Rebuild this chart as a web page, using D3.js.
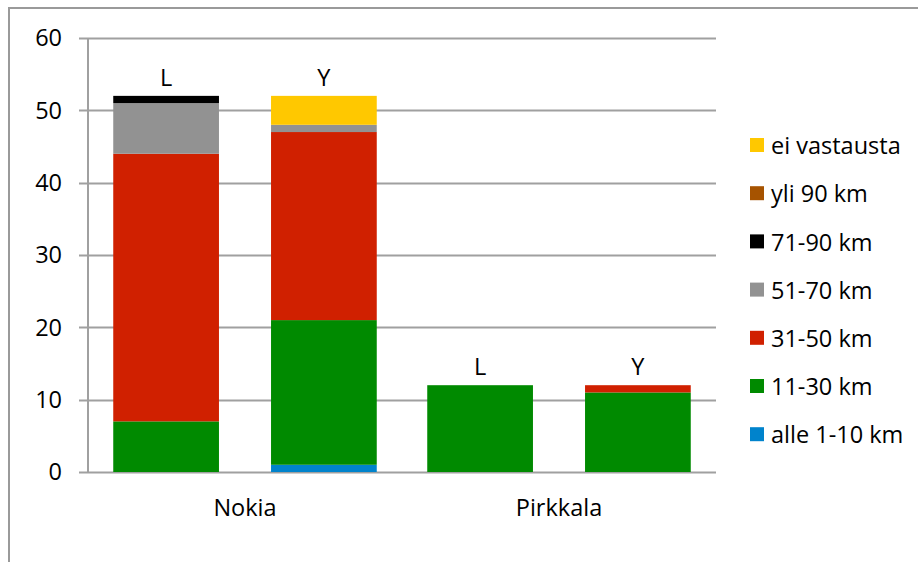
<!DOCTYPE html>
<html><head><meta charset="utf-8">
<script src="https://cdn.jsdelivr.net/npm/d3@7"></script>
<style>body{margin:0;background:#fff}svg{display:block}text{font-family:"Open Sans",sans-serif;fill:#000}</style>
</head><body><svg id="c" width="918" height="562"></svg>
<script>
const categories = ["Nokia", "Pirkkala"];
const groups = ["L", "Y"];
const seriesNames = ["alle 1-10 km", "11-30 km", "31-50 km", "51-70 km", "71-90 km", "yli 90 km", "ei vastausta"];
const seriesColors = ["#0083CC", "#008A00", "#D02000", "#929292", "#000000", "#A65300", "#FFC800"];
// values per bar: Nokia L, Nokia Y, Pirkkala L, Pirkkala Y
const alle1_10 = [0, 1, 0, 0];
const km11_30 = [7, 20, 12, 11];
const km31_50 = [37, 26, 0, 1];
const km51_70 = [7, 1, 0, 0];
const km71_90 = [1, 0, 0, 0];
const yli90 = [0, 0, 0, 0];
const eiVastausta = [0, 4, 0, 0];
const yTicks = [0, 10, 20, 30, 40, 50, 60];

const seriesValues = [alle1_10, km11_30, km31_50, km51_70, km71_90, yli90, eiVastausta];
const bars = [];
categories.forEach((c, ci) => groups.forEach((g, gi) => {
  const idx = ci * 2 + gi;
  const row = {cat: c, grp: g};
  seriesNames.forEach((s, si) => row[s] = seriesValues[si][idx]);
  bars.push(row);
}));

const svg = d3.select("#c");
const fs = "23.5px";
// outer frame
svg.append("path").attr("d", "M9,562 V8 H918").attr("fill", "none").attr("stroke", "#9a9a9a").attr("stroke-width", 2);

const pLeft = 88, pRight = 716, pTop = 38, pBottom = 472;
const x0 = d3.scaleBand().domain(categories).range([pLeft, pRight]).paddingInner(0).paddingOuter(0);
const x1 = d3.scaleBand().domain(groups).range([0, x0.bandwidth()]).paddingInner(0.33).paddingOuter(0.16);
const y = d3.scaleLinear().domain([0, 60]).range([pBottom, pTop]);

// gridlines
svg.append("g").selectAll("line").data(yTicks).join("line")
  .attr("x1", pLeft - 9).attr("x2", pRight)
  .attr("y1", d => Math.round(y(d)) + 0.5).attr("y2", d => Math.round(y(d)) + 0.5)
  .attr("stroke", "#a0a0a0").attr("stroke-width", 2);
// y axis line
svg.append("line").attr("x1", pLeft).attr("x2", pLeft).attr("y1", pTop).attr("y2", pBottom + 1)
  .attr("stroke", "#a0a0a0").attr("stroke-width", 2);
// y labels
svg.append("g").selectAll("text").data(yTicks).join("text")
  .attr("x", 62).attr("y", d => y(d)).attr("dy", "0.35em").attr("text-anchor", "end")
  .style("font-size", fs).text(d => d);

const stack = d3.stack().keys(seriesNames);
const layers = stack(bars);
svg.append("g").selectAll("g").data(layers).join("g")
  .attr("fill", (d, i) => seriesColors[i])
  .selectAll("rect").data(d => d.filter(p => p[1] - p[0] > 0)).join("rect")
  .attr("x", d => x0(d.data.cat) + x1(d.data.grp))
  .attr("width", x1.bandwidth())
  .attr("y", d => y(d[1]))
  .attr("height", d => y(d[0]) - y(d[1]));

// group labels above stacks
svg.append("g").selectAll("text").data(bars).join("text")
  .attr("x", d => x0(d.cat) + x1(d.grp) + x1.bandwidth() / 2)
  .attr("y", d => y(d3.sum(seriesNames, s => d[s])) - 10)
  .attr("text-anchor", "middle").style("font-size", fs).text(d => d.grp);

// category labels
svg.append("g").selectAll("text").data(categories).join("text")
  .attr("x", d => x0(d) + x0.bandwidth() / 2).attr("y", 508).attr("dy", "0.35em")
  .attr("text-anchor", "middle").style("font-size", fs).text(d => d);

// legend (reverse order)
const legendItems = seriesNames.map((s, i) => ({name: s, color: seriesColors[i]})).reverse();
const lg = svg.append("g").selectAll("g").data(legendItems).join("g")
  .attr("transform", (d, i) => `translate(750, ${146 + i * 48.2})`);
lg.append("rect").attr("x", 0).attr("y", -8).attr("width", 14).attr("height", 14).attr("fill", d => d.color);
lg.append("text").attr("x", 21).attr("y", 0).attr("dy", "0.35em").style("font-size", fs).text(d => d.name);
</script></body></html>
